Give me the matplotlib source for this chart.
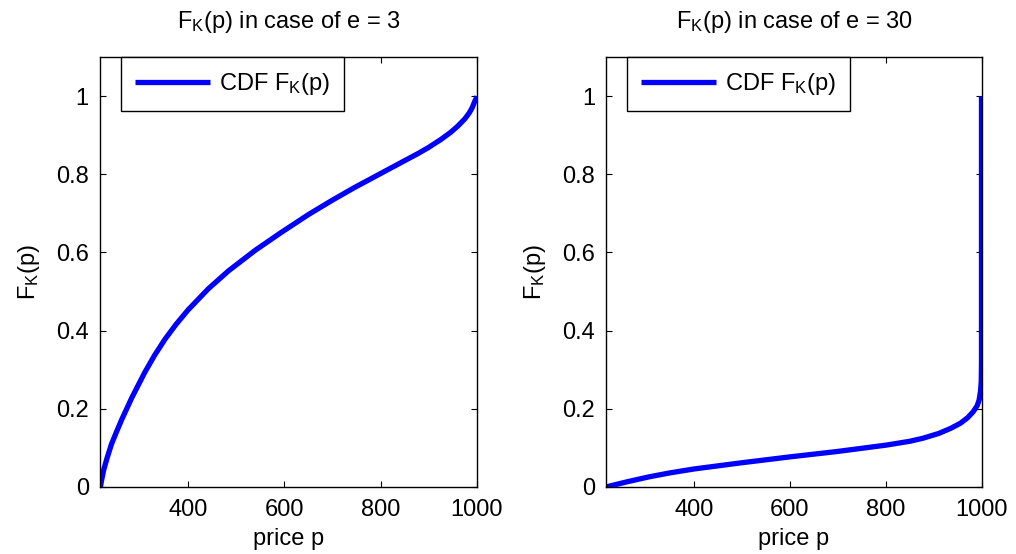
import matplotlib
matplotlib.use("Agg")
import matplotlib.pyplot as plt
import numpy as np

plt.rcParams['font.family'] = ['Liberation Sans', 'DejaVu Sans']
plt.rcParams['mathtext.fontset'] = 'custom'
plt.rcParams['mathtext.rm'] = 'Liberation Sans'
plt.rcParams['mathtext.it'] = 'Liberation Sans'

# e = 3
p3 = [218, 220, 225, 232, 241, 252, 262, 283, 310, 330, 352, 375, 400, 442,
      484, 540, 592, 650, 700, 744, 800, 850, 876, 900, 925, 945, 960, 975,
      984, 990, 996, 999, 1000]
F3 = [0.0, 0.015, 0.045, 0.075, 0.110, 0.143, 0.172, 0.228, 0.293, 0.336,
      0.378, 0.416, 0.453, 0.507, 0.553, 0.606, 0.650, 0.697, 0.734, 0.765,
      0.802, 0.835, 0.852, 0.869, 0.889, 0.907, 0.923, 0.942, 0.957, 0.970,
      0.988, 0.996, 1.0]

# e = 30
p30 = [217, 230, 260, 307, 350, 400, 500, 600, 700, 800, 850, 878, 910, 935,
       955, 970, 982, 990, 994, 997, 998.5, 999, 999]
F30 = [0.0, 0.004, 0.013, 0.026, 0.036, 0.046, 0.062, 0.077, 0.091, 0.107,
       0.117, 0.125, 0.137, 0.150, 0.163, 0.177, 0.193, 0.208, 0.222, 0.245,
       0.27, 0.32, 1.0]

titles = ["F$_{\\mathrm{K}}$(p) in case of e = 3",
          "F$_{\\mathrm{K}}$(p) in case of e = 30"]
ylab = "F$_{\\mathrm{K}}$(p)"
leglab = "CDF F$_{\\mathrm{K}}$(p)"
xticks = [400, 600, 800, 1000]
yticks = [0, 0.2, 0.4, 0.6, 0.8, 1]

fs = 17

fig = plt.figure(figsize=(10.16, 5.54), dpi=100)
ax1 = fig.add_axes([0.0984, 0.121, 0.371, 0.776])
ax2 = fig.add_axes([0.5965, 0.121, 0.370, 0.776])

for ax, p, F, t in [(ax1, p3, F3, titles[0]), (ax2, p30, F30, titles[1])]:
    ax.plot(p, F, color='#0000ff', linewidth=3.8, label=leglab,
            solid_capstyle='butt', solid_joinstyle='round')
    ax.set_xlim(217, 1000)
    ax.set_ylim(0, 1.1)
    ax.set_xticks(xticks)
    ax.set_yticks(yticks)
    ax.set_yticklabels(["0", "0.2", "0.4", "0.6", "0.8", "1"])
    ax.tick_params(direction='in', length=4, width=0.8, top=True, right=True,
                   labelsize=fs)
    ax.tick_params(axis='x', pad=9)
    ax.tick_params(axis='y', pad=8)
    for s in ax.spines.values():
        s.set_linewidth(1.0)
    ax.set_title(t, fontsize=fs, pad=21)
    ax.set_xlabel("price p", fontsize=fs, labelpad=5)
    ax.set_ylabel(ylab, fontsize=fs, labelpad=10)
    leg = ax.legend(loc='upper left', bbox_to_anchor=(0.055, 1.0),
                    borderaxespad=0, fontsize=fs, handlelength=3.2,
                    fancybox=False, framealpha=1, edgecolor='black',
                    borderpad=0.6, handletextpad=0.35)
    leg.get_frame().set_linewidth(1.0)

fig.savefig("out.png", dpi=100)
